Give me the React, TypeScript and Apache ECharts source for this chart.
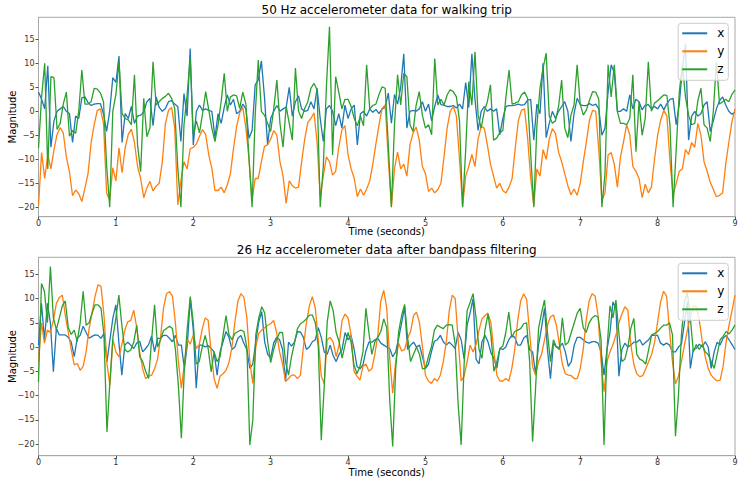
import React, { useEffect, useRef } from "react";
import * as echarts from "echarts";

// ---------- data ----------
const RATE_TOP = 25; // samples per second as drawn (top panel)
const RATE_BOTTOM = 26; // samples per second (bottom panel)

const xTicks = [0, 1, 2, 3, 4, 5, 6, 7, 8, 9];
const yTicks = [-20, -15, -10, -5, 0, 5, 10, 15];
const legendNames = ["x", "y", "z"];

const titleTop = "50 Hz accelerometer data for walking trip";
const titleBottom = "26 Hz accelerometer data after bandpass filtering";

const xTop = [
  4.0, 2.5, 0.5, 9.5, -7.5, -2.0, 0.0, 0.5, 1.0, 0.0,
  -0.5, -6.5, -1.0, -1.5, 2.8, 3.0, 1.8, 1.2, 1.5, 1.6,
  1.6, -0.5, -4.2, 0.0, 7.0, 6.0, 11.5, -6.5, -0.5, -1.5,
  1.0, -2.5, -1.0, -0.8, -0.2, 2.0, 2.7, -3.0, 3.0, 0.8,
  0.0, 0.6, 2.0, 2.2, 1.5, 1.0, -6.3, 3.7, -1.0, 13.1,
  -7.0, 0.0, 1.3, 0.2, 0.5, 0.2, 0.0, -5.5, -0.5, -2.5,
  0.8, 3.4, 1.3, 2.5, -0.5, 0.0, 1.5, 0.5, -5.6, -4.0,
  5.5, 6.5, 10.5, 3.0, -7.0, -1.5, 0.0, 1.2, 0.0, 0.5,
  0.8, 5.0, -1.0, 2.0, 3.2, 0.5, 0.0, 0.2, 2.0, 0.5,
  4.8, -1.5, -6.3, 0.5, 1.2, 0.0, -3.0, -0.5, -3.5, 1.3,
  -1.5, 0.5, 1.3, -7.0, -0.5, 0.0, -1.0, 0.5, -0.2, 0.4,
  -0.5, 0.5, 0.8, 3.8, -2.5, 3.5, 1.5, 5.0, 12.0, -3.5,
  0.0, 0.2, 0.0, 0.5, 2.0, 0.0, 1.5, -2.0, 1.0, 3.4,
  1.4, 1.3, 1.0, 1.0, 1.2, 0.7, 1.5, 0.5, 6.0, 0.8,
  12.0, 2.5, -4.0, 0.0, 1.0, 0.0, 0.5, 0.0, 0.5, -4.9,
  -1.5, 1.0, 1.2, 1.2, 1.3, 1.5, 1.3, 1.4, 2.3, 2.5,
  -6.0, 1.5, -0.5, 10.0, -5.5, -2.5, 0.0, -1.5, 0.0, 1.0,
  2.0, 0.0, -6.3, -0.5, 2.7, 1.4, 1.2, 1.2, 1.6, 1.2,
  1.5, 0.5, -5.0, -3.5, 4.0, 9.7, 8.0, 0.0, 0.0, 0.5,
  0.0, 3.4, 0.5, 2.5, 2.0, 0.3, 1.3, 1.4, 0.5, 1.0,
  0.5, 1.5, 0.3, 1.6, 2.5, 2.7, -2.8, 1.5, 9.0, 14.0,
  -6.0, -1.0, 0.0, -1.0, -0.5, 1.3, 2.0, -4.2, -2.0, 0.5,
  2.2, 3.0, 1.3, 0.0, -0.6, -0.2,
];

const yTop = [
  -19.7, -8.6, -14.0, -9.0, -12.0, -8.0, -4.8, -3.4, -4.5, -9.5,
  -12.6, -17.6, -16.4, -17.2, -18.8, -16.0, -13.0, -6.5, -2.8, 0.2,
  0.5, -2.5, -17.0, -18.5, -11.8, -14.5, -7.6, -12.8, -7.6, -4.8,
  -3.7, -6.5, -11.5, -14.0, -18.0, -16.0, -14.6, -16.6, -15.6, -15.0,
  -10.5, -2.5, 0.2, 0.8, -3.5, -19.5, -14.5, -10.5, -12.0, -7.8,
  -7.5, -6.8, -5.2, -3.8, -4.8, -9.1, -11.9, -16.5, -16.5, -15.8,
  -17.0, -15.3, -13.0, -7.7, -3.2, -0.3, 0.8, -3.5, -10.0, -18.5,
  -14.0, -14.0, -10.5, -7.3, -7.0, -5.8, -4.0, -5.0, -10.5, -13.5,
  -19.2, -14.5, -15.5, -16.0, -15.8, -10.5, -5.8, -2.3, -1.5, -0.3,
  -6.5, -17.8, -13.5, -9.5, -10.5, -13.3, -12.5, -7.5, -3.9, -3.0,
  -9.1, -12.0, -14.0, -17.8, -16.2, -17.5, -16.2, -14.5, -11.0, -6.8,
  -2.8, 0.6, 1.3, -10.0, -19.9, -12.0, -8.5, -12.0, -11.0, -13.5,
  -7.0, -4.5, -3.3, -6.0, -11.5, -13.0, -16.7, -16.0, -17.0, -16.3,
  -15.0, -9.5, -3.5, 0.0, 1.0, -1.0, -10.0, -19.8, -13.5, -11.5,
  -9.0, -11.5, -5.8, -3.2, -3.5, -7.0, -11.0, -13.5, -16.0, -15.0,
  -16.5, -17.0, -15.8, -14.0, -7.7, -2.0, 0.2, 0.5, -5.5, -14.0,
  -19.6, -12.0, -13.5, -8.0, -10.0, -5.8, -3.6, -4.6, -8.5, -10.5,
  -13.0, -15.5, -17.4, -16.2, -17.5, -15.0, -10.5, -6.3, -1.8, 0.2,
  0.0, -8.0, -18.5, -17.0, -9.1, -8.6, -11.0, -15.8, -9.5, -6.3,
  -2.8, -4.9, -11.5, -12.5, -14.0, -18.0, -15.2, -17.0, -15.8, -10.0,
  -5.0, -1.8, 0.2, -1.0, -10.5, -17.4, -15.0, -12.5, -12.0, -8.0,
  -9.0, -6.5, -7.5, -2.5, -5.0, -10.5, -12.5, -14.8, -16.3, -17.8,
  -17.5, -17.0, -11.0, -6.5, -2.2, 0.5,
];

const zTop = [
  -7.7, 3.0, 10.0, -12.0, 7.2, 7.0, -3.8, -2.5, 1.5, 4.0,
  -5.2, -4.0, -4.6, 0.0, 8.6, 1.5, 1.5, 2.0, 4.8, 4.6,
  3.8, 2.0, -11.2, -20.0, 0.0, 3.5, 10.3, -0.5, -1.5, -1.8,
  -2.8, 7.6, -7.0, -12.6, 2.7, -5.3, -3.5, 10.3, 1.3, 2.0,
  2.7, 3.1, 3.75, 2.7, 0.6, -11.9, -20.0, -2.8, 3.4, 11.0,
  -4.9, -2.0, -4.5, -0.5, 4.1, 0.3, -3.5, -6.3, -2.8, 2.0,
  7.9, 0.0, 3.0, 3.4, 3.2, 0.6, 4.0, 1.5, -9.8, -20.0,
  -0.8, 10.7, 0.0, -0.8, -2.5, -4.2, 0.5, 6.5, -2.5, -7.5,
  1.0, -2.5, -6.0, 9.0, 0.0, -1.5, 0.6, 2.0, 4.8, 5.8,
  4.5, -20.0, -11.5, 5.0, 17.6, -9.1, 7.2, 4.0, 0.5, 2.5,
  2.5, 1.0, -1.5, -3.0, -1.0, -3.0, 9.7, 0.5, 1.2, 1.5,
  3.5, 5.1, 4.8, -7.0, -20.0, -2.8, 7.6, 1.3, 7.9, 7.2,
  -2.8, -4.2, 1.3, 4.1, -0.8, -3.5, -2.8, -4.9, 11.0, 1.3,
  2.5, 1.3, 3.4, 4.5, 4.1, 3.0, -2.0, -20.0, -8.0, 6.2,
  1.3, 12.4, -0.8, -3.5, 0.0, 2.0, 5.5, -6.0, -5.6, -4.5,
  -4.0, 3.0, 8.6, 1.5, 1.7, 2.0, 3.4, 4.0, 2.7, -9.0,
  -20.0, -3.0, 4.8, 9.0, 12.1, -1.0, -2.5, -2.0, 1.0, 6.5,
  -3.5, -5.5, -0.8, 1.3, 9.7, 1.5, -0.8, 0.3, 2.3, 4.1,
  4.0, 2.5, -20.0, -13.0, 9.7, 3.0, 9.7, 0.0, -2.5, -2.5,
  -2.8, -1.5, 7.6, -8.4, 2.0, -5.0, -1.5, 10.3, 0.0, 1.7,
  2.2, 2.8, 3.4, 3.3, -3.0, -20.0, -8.0, 4.0, 9.7, 3.0,
  -0.8, -2.8, -2.5, 2.2, 4.8, -2.8, -3.5, -6.3, 0.0, 10.3,
  1.5, 2.0, 2.5, 2.0, 3.5, 4.4,
];

const xBottom = [
  0.4, 9.0, 1.5, 9.0, 5.0, -5.1, 3.8, 2.5, 2.5, 2.5,
  2.0, 1.0, -2.0, 1.8, 2.4, 4.3, 3.0, 1.8, 2.2, 2.5,
  2.4, 1.8, 2.8, -3.0, 1.5, 6.0, 8.7, 1.0, -5.8, 0.4,
  1.0, 0.4, -0.3, 0.8, 1.2, -1.0, -0.3, 0.5, 2.3, -1.0,
  1.8, 1.8, 2.4, 2.4, 1.8, 1.1, 2.4, 0.4, 0.4, -4.4,
  0.5, 10.0, 3.5, -8.5, 0.4, 0.4, 0.0, 0.3, -0.3, -1.0,
  -5.8, -1.0, 1.1, 3.2, 2.0, -0.5, 0.0, 1.8, 2.4, 0.8,
  -0.5, -4.4, -3.5, 1.1, 5.2, 7.3, 1.0, -1.5, -2.3, 0.8,
  2.0, 1.5, -0.5, -7.1, 1.0, 0.2, 1.0, 3.2, 3.1, 2.0,
  -0.5, 0.0, 1.1, 1.5, 4.0, 2.0, -1.0, -1.5, 0.4, -1.8,
  -3.0, -1.5, -0.5, 3.0, 1.5, 2.4, -0.3, -4.0, -4.5, -3.7,
  -0.8, 1.0, 1.0, 1.5, 1.8, 0.8, 0.4, 0.0, -0.3, -2.0,
  -1.0, 1.8, 5.0, 8.3, -0.5, 0.4, 1.0, 0.0, 0.4, -2.0,
  -4.4, -3.6, -1.0, 1.2, 1.5, 2.4, 1.1, 0.4, 1.0, 0.4,
  -0.3, 3.0, 1.5, -2.5, 4.5, 7.0, 10.0, -2.5, -3.5, 1.1,
  2.4, 1.1, -1.2, -2.3, -4.4, -0.3, -0.5, 0.0, 1.5, 2.4,
  2.0, 0.4, 0.4, 1.8, 2.4, -0.5, -1.0, -5.5, 0.4, 4.0,
  8.0, -0.5, -6.5, 0.8, 0.0, 0.0, 0.8, -1.0, -4.0, -3.0,
  0.4, 2.0, 2.0, 1.5, 1.0, 0.8, 1.1, 1.1, 0.8, -1.0,
  -5.8, -0.5, 3.0, 9.3, 8.0, -6.0, -0.5, 0.8, 0.0, 0.4,
  1.0, 1.0, 1.5, 0.4, 1.0, 1.5, 2.4, 2.4, 2.4, 0.8,
  0.4, 0.8, 0.4, -1.0, -1.0, 0.0, 0.6, 5.0, 9.3, -4.4,
  -0.5, -0.3, 0.6, 0.0, 1.1, 0.0, -4.4, -1.0, 1.0, 0.4,
  1.8, 2.4, 1.5, 0.5, -0.5,
];

const yBottom = [
  -3.0, 5.0, 0.8, 3.5, 3.0, 5.5, 9.0, 10.2, 10.7, 6.6,
  3.0, -0.5, -3.7, -3.4, -4.8, -4.0, -1.0, 3.8, 7.0, 10.5,
  12.8, 12.5, 6.5, -3.5, -7.8, 1.5, -1.0, -2.0, 0.5, 3.5,
  5.2, 5.5, 7.6, 4.0, -1.0, -4.5, -6.5, -6.0, -5.8, -4.5,
  -2.5, 2.0, 8.0, 11.0, 11.4, 10.5, 5.0, -3.0, -8.5, -3.5,
  1.6, 0.6, 2.5, -0.3, 0.5, 3.7, 6.0, 5.5, -1.0, -6.5,
  -8.5, -6.0, -5.5, -4.8, -3.2, 0.0, 5.2, 9.5, 11.0, 10.3,
  6.0, -3.0, -7.5, 0.0, 2.8, 3.5, 4.0, 4.5, 4.8, 5.5,
  3.0, -1.0, -3.5, -7.1, -6.5, -5.8, -5.8, -6.5, -5.8, 0.0,
  5.0, 8.5, 10.4, 8.0, 1.5, -6.0, -7.5, 1.5, 2.0, 1.0,
  -2.0, 0.5, 5.5, 6.8, 6.0, 2.5, -5.0, -6.0, -6.8, -4.0,
  -3.5, -5.0, -4.5, -1.5, 2.5, 9.5, 11.7, 8.0, -2.5, -9.5,
  -3.0, 0.8, -0.8, -0.5, 1.8, 3.2, 6.5, 7.2, 5.0, 0.0,
  -5.8, -7.0, -7.5, -6.5, -7.0, -5.8, -3.0, 1.0, 7.5, 10.7,
  10.0, 1.5, -7.0, -6.0, -3.0, 0.4, -1.0, 0.5, 3.5, 5.8,
  6.5, 7.0, 5.0, -1.0, -5.8, -7.0, -7.0, -6.5, -7.0, -4.5,
  -0.5, 5.5, 9.5, 11.0, 9.8, 3.0, -4.0, -5.8, -3.0, -1.5,
  1.5, 4.5, 6.2, 6.6, 4.5, 0.5, -3.5, -5.5, -5.8, -5.9,
  -6.5, -6.5, -4.5, -0.5, 5.5, 9.5, 11.0, 10.5, 6.5, -3.0,
  -9.2, -3.0, -1.0, 0.5, 2.5, 5.0, 6.8, 8.3, 7.6, 0.5,
  -3.5, -5.5, -6.1, -5.9, -4.5, -3.0, -1.5, 1.0, 5.2, 9.3,
  11.5, 10.5, 3.5, -3.0, -7.6, -6.0, -3.0, 0.4, 3.5, 6.3,
  8.5, 8.4, 5.5, 1.2, -2.0, -4.4, -5.8, -6.5, -7.0, -6.8,
  -4.0, 1.0, 4.5, 7.5, 10.7,
];

const zBottom = [
  -7.2, 13.1, 11.5, 5.0, 16.6, 6.0, 3.6, 6.0, 8.5, 9.5,
  4.0, 2.6, 3.5, 1.1, 5.0, 11.5, 4.5, 5.0, 7.0, 8.7,
  8.7, 8.0, 2.5, -17.5, -7.0, 2.0, 6.0, 10.7, 4.5, -0.5,
  -1.0, -0.6, 1.0, 4.5, -2.0, -3.0, -5.0, -6.5, 1.5, 8.7,
  0.0, 1.5, 3.4, 3.8, 4.3, 3.8, -0.5, -8.0, -18.8, -4.5,
  4.0, 10.4, 5.0, -3.5, -3.0, 0.0, 2.4, -0.3, -5.1, -1.0,
  -3.0, -2.0, 2.4, 6.5, 2.5, 1.5, 2.8, 3.2, 3.5, 3.2,
  0.0, -20.2, -15.0, 2.5, 6.0, 8.3, 7.0, 1.0, -3.2, -0.5,
  1.5, 3.0, 3.0, -3.0, -5.8, -2.0, 0.8, 3.8, 4.8, 5.2,
  5.8, 6.6, 6.6, 5.0, 0.0, -19.2, -8.0, 5.2, 9.5, 7.5,
  3.0, 1.1, -2.3, 0.5, 3.0, 1.0, -3.7, -5.5, -4.0, -1.0,
  8.0, 3.0, -1.5, 1.0, 2.0, 3.2, 5.8, 4.0, -11.0, -20.5,
  -4.5, 3.2, 6.5, 8.8, 2.0, -3.0, -1.5, 0.0, -1.5, -4.5,
  -4.4, -2.0, 0.0, 3.5, 4.5, 4.1, 3.8, 4.5, 4.6, 4.5,
  0.5, -12.0, -20.2, -3.5, 7.5, 9.2, 11.0, 6.0, -0.5, -2.3,
  3.5, 6.8, 2.5, -5.0, -3.0, -0.3, 0.2, 3.0, 7.2, 2.0,
  3.2, 3.5, 3.8, 4.8, 5.0, -3.0, -19.5, -8.5, 3.8, 7.0,
  9.7, 3.0, -3.0, 1.5, 0.0, -0.5, 6.0, 0.4, 1.0, 3.0,
  5.0, 7.0, 8.0, 4.0, 3.0, 5.0, 6.0, 6.5, 6.2, 1.5,
  -20.2, -0.5, 8.5, 6.0, 9.7, 2.8, -3.0, -2.5, 0.0, 3.8,
  5.9, -1.5, -2.5, -2.8, -3.5, -0.5, 2.5, 2.8, 3.2, 3.9,
  4.5, 4.5, 5.0, 2.5, -18.4, -10.0, 2.5, 9.3, 11.1, 6.0,
  -1.0, 0.5, -0.5, 0.5, -1.0, -1.6, -3.0, -4.4, -1.5, 1.5,
  2.2, 3.2, 2.7, 3.5, 4.5,
];

// ---------- styling ----------
const COLORS = ["#1f77b4", "#ff7f0e", "#2ca02c"];
const FONT = "DejaVu Sans";
const FRAME = "#a8a8a8";

const toPairs = (arr: number[], rate: number) => arr.map((v, i) => [i / rate, v]);
const fmtMinus = (v: number) => (v < 0 ? "\u2212" + Math.abs(v) : String(v));

function makeX(gridIndex: number, nameGap: number) {
  return {
    type: "value",
    gridIndex,
    min: 0,
    max: 9,
    interval: 1,
    name: "Time (seconds)",
    nameLocation: "middle",
    nameGap,
    nameMoveOverlap: false,
    nameTextStyle: { fontFamily: FONT, fontSize: 10, color: "#000" },
    axisLine: { show: true, onZero: false, lineStyle: { color: FRAME, width: 1 } },
    axisTick: { show: true, length: 3, customValues: xTicks, lineStyle: { color: "#555" } },
    axisLabel: { customValues: xTicks, margin: 3, fontFamily: FONT, fontSize: 8, color: "#333", formatter: fmtMinus },
    splitLine: { show: false },
  };
}

function makeY(gridIndex: number, min: number, max: number) {
  return {
    type: "value",
    gridIndex,
    min,
    max,
    splitNumber: 8,
    name: "Magnitude",
    nameLocation: "middle",
    nameGap: 21,
    nameRotate: 90,
    nameMoveOverlap: false,
    nameTextStyle: { fontFamily: FONT, fontSize: 10, color: "#000" },
    axisLine: { show: true, onZero: false, lineStyle: { color: FRAME, width: 1 } },
    axisTick: { show: true, length: 3, customValues: yTicks, lineStyle: { color: "#555" } },
    axisLabel: { customValues: yTicks, margin: 4, fontFamily: FONT, fontSize: 8, color: "#333", formatter: fmtMinus },
    splitLine: { show: false },
  };
}

function makeLegend(top: number) {
  return {
    data: legendNames,
    orient: "vertical",
    right: 10.7,
    top,
    icon: "rect",
    itemWidth: 25,
    itemHeight: 2,
    itemGap: 2,
    padding: [2, 4, 3, 4],
    backgroundColor: "rgba(255,255,255,0.8)",
    borderColor: "#cccccc",
    borderWidth: 1,
    borderRadius: 3,
    textStyle: { fontFamily: FONT, fontSize: 12, color: "#000", lineHeight: 16, padding: [0, 0, 0, 5] },
  };
}

function makeSeries(name: string, color: string, data: number[], rate: number, idx: number) {
  return {
    name,
    type: "line",
    xAxisIndex: idx,
    yAxisIndex: idx,
    data: toPairs(data, rate),
    showSymbol: false,
    symbol: "none",
    lineStyle: { color, width: 1.3 },
    itemStyle: { color },
    emphasis: { disabled: true },
  };
}

export default function App() {
  const ref = useRef<HTMLDivElement>(null);
  useEffect(() => {
    if (!ref.current) return;
    const chart = echarts.init(ref.current, undefined, { renderer: "svg" });
    chart.setOption({
      animation: false,
      backgroundColor: "#ffffff",
      textStyle: { fontFamily: FONT },
      title: [
        {
          text: titleTop,
          left: 386.7,
          top: 4,
          textAlign: "center",
          padding: 0,
          textStyle: { fontFamily: FONT, fontSize: 12, fontWeight: "normal", color: "#000" },
        },
        {
          text: titleBottom,
          left: 386.7,
          top: 244,
          textAlign: "center",
          padding: 0,
          textStyle: { fontFamily: FONT, fontSize: 12, fontWeight: "normal", color: "#000" },
        },
      ],
      legend: [makeLegend(23.3), makeLegend(263.3)],
      grid: [
        { left: 38.5, top: 17.3, width: 696.5, height: 199.4, show: true, borderColor: FRAME, borderWidth: 1, containLabel: false, outerBoundsMode: "none" },
        { left: 38.5, top: 257.3, width: 696.5, height: 198.4, show: true, borderColor: FRAME, borderWidth: 1, containLabel: false, outerBoundsMode: "none" },
      ],
      xAxis: [makeX(0, 10), makeX(1, 12)],
      yAxis: [makeY(0, -21.96, 19.58), makeY(1, -22.4, 18.5)],
      series: [
        makeSeries("x", COLORS[0], xTop, RATE_TOP, 0),
        makeSeries("y", COLORS[1], yTop, RATE_TOP, 0),
        makeSeries("z", COLORS[2], zTop, RATE_TOP, 0),
        makeSeries("x", COLORS[0], xBottom, RATE_BOTTOM, 1),
        makeSeries("y", COLORS[1], yBottom, RATE_BOTTOM, 1),
        makeSeries("z", COLORS[2], zBottom, RATE_BOTTOM, 1),
      ],
    });
    return () => chart.dispose();
  }, []);
  return (
    <div
      ref={ref}
      style={{ position: "fixed", left: 0, top: 0, width: 739, height: 478, background: "#fff" }}
    />
  );
}
